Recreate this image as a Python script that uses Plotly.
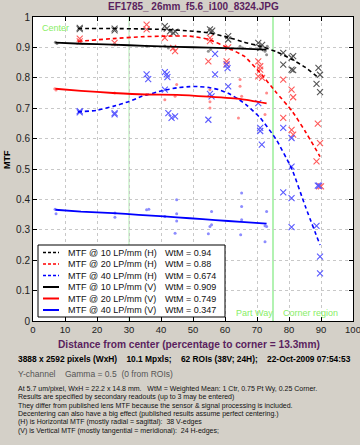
import plotly.graph_objects as go

# ---------------- text ----------------
title_text = "EF1785_ 26mm_f5.6_i100_8324.JPG"
x_title = "Distance from center (percentage to corner = 13.3mm)"
y_title = "MTF"
region_labels = ["Center", "Part Way", "Corner region"]
region_bounds = [30, 75]
info_bold = "3888 x 2592 pixels (WxH)    10.1 Mpxls;    62 ROIs (38V; 24H);    22-Oct-2009 07:54:53"
info_gray = "Y-channel    Gamma = 0.5  (0 from ROIs)"
info_lines = [
    "At 5.7 um/pixel, WxH = 22.2 x 14.8 mm.   WtM = Weighted Mean: 1 Ctr, 0.75 Pt Wy, 0.25 Corner.",
    "Results are specified by secondary readouts (up to 3 may be entered)",
    "They differ from published lens MTF because the sensor & signal processing is included.",
    "Decentering can also have a big effect (published results assume perfect centering.)",
    "(H) is Horizontal MTF (mostly radial = sagittal):  38 V-edges",
    "(V) is Vertical MTF (mostly tangential = meridional):  24 H-edges;",
]
series_names = ["MTF @ 10 LP/mm (H)", "MTF @ 20 LP/mm (H)", "MTF @ 40 LP/mm (H)",
                "MTF @ 10 LP/mm (V)", "MTF @ 20 LP/mm (V)", "MTF @ 40 LP/mm (V)"]
wtm_values = ["0.94", "0.88", "0.674", "0.909", "0.749", "0.347"]

# ---------------- fitted curves ----------------
fit10H_x = [14, 25, 33, 41, 48, 55, 61, 66, 71, 76, 81, 85, 89.5]
fit10H_y = [0.962, 0.962, 0.961, 0.959, 0.955, 0.948, 0.933, 0.917, 0.904, 0.886, 0.860, 0.835, 0.798]
fit20H_x = [14, 25, 34, 41, 49, 55, 61, 66, 71, 76, 81, 85, 89.7]
fit20H_y = [0.920, 0.929, 0.935, 0.937, 0.937, 0.926, 0.898, 0.871, 0.816, 0.752, 0.690, 0.625, 0.541]
fit40H_x = [14, 20, 25, 30, 34, 41, 45, 49, 52, 55, 58, 61, 64, 67, 71, 76, 81, 85, 89.7]
fit40H_y = [0.688, 0.693, 0.706, 0.722, 0.739, 0.759, 0.767, 0.771, 0.771, 0.768, 0.761, 0.749, 0.731, 0.708, 0.668, 0.597, 0.497, 0.380, 0.250]
fit10V_x = [7, 15, 25, 35, 45, 55, 65, 73]
fit10V_y = [0.916, 0.912, 0.909, 0.905, 0.902, 0.899, 0.896, 0.893]
fit20V_x = [7, 15, 25, 35, 45, 55, 65, 73]
fit20V_y = [0.764, 0.757, 0.750, 0.745, 0.744, 0.738, 0.730, 0.716]
fit40V_x = [7, 15, 25, 33, 41, 49, 57, 65, 73]
fit40V_y = [0.366, 0.360, 0.355, 0.349, 0.344, 0.338, 0.332, 0.326, 0.320]

# ---------------- measured ROI points ----------------
pts10H_x = [14.6, 14.6, 25.5, 25.5, 41.2, 41.8, 42.8, 43.8, 44.5, 55.3, 56.0, 55.6, 61.0, 61.0,
            70.4, 71.0, 71.6, 78.2, 81.3, 80.8, 78.2, 80.8, 81.3, 89.2, 89.7, 88.6, 89.7]
pts10H_y = [0.964, 0.960, 0.962, 0.956, 0.970, 0.962, 0.953, 0.948, 0.952, 0.959, 0.955, 0.950, 0.937, 0.926,
            0.915, 0.898, 0.908, 0.882, 0.871, 0.866, 0.843, 0.827, 0.825, 0.833, 0.810, 0.780, 0.753]
pts20H_x = [14.6, 14.6, 25.5, 35.5, 35.5, 41.2, 43.8, 44.4, 55.3, 55.3, 54.8, 61.0, 60.5, 60.5,
            70.4, 71.0, 71.0, 70.4, 71.6, 78.2, 80.8, 81.3, 78.2, 80.8, 81.3, 89.0, 89.7, 88.6, 89.4, 90.0]
pts20H_y = [0.929, 0.920, 0.915, 0.975, 0.959, 0.931, 0.898, 0.888, 0.931, 0.921, 0.854, 0.900, 0.854, 0.845,
            0.854, 0.838, 0.827, 0.805, 0.800, 0.794, 0.761, 0.736, 0.668, 0.629, 0.613, 0.649, 0.585, 0.525, 0.443, 0.443]
pts40H_x = [14.6, 14.6, 25.5, 25.5, 35.5, 36.0, 41.2, 41.8, 42.0, 56.9, 60.5, 60.8, 56.9, 61.0, 41.2, 55.3,
            55.8, 42.3, 43.3, 44.4, 54.8, 70.4, 71.0, 71.0, 71.5, 78.2, 80.8, 80.8, 78.2, 80.8, 80.8,
            89.0, 89.4, 88.6, 89.7, 89.7]
pts40H_y = [0.690, 0.686, 0.684, 0.680, 0.811, 0.796, 0.819, 0.811, 0.802, 0.879, 0.843, 0.832, 0.811, 0.772, 0.761, 0.747,
            0.739, 0.684, 0.668, 0.673, 0.662, 0.717, 0.635, 0.625, 0.580, 0.635, 0.602, 0.508, 0.423, 0.404, 0.309,
            0.445, 0.445, 0.313, 0.212, 0.157]
pts10V_x = [7.0, 7.5, 25.5, 35.5, 41.2, 42.3, 54.8, 55.5, 64.7, 65.5, 72.5, 73.0, 73.2]
pts10V_y = [0.917, 0.913, 0.909, 0.904, 0.905, 0.898, 0.887, 0.893, 0.904, 0.898, 0.887, 0.876, 0.904]
pts20V_x = [6.8, 7.2, 25.5, 35.5, 41.2, 44.4, 44.9, 55.3, 55.3, 55.3, 64.7, 64.7, 65.2, 64.2, 73.0, 72.5]
pts20V_y = [0.764, 0.760, 0.750, 0.745, 0.728, 0.739, 0.778, 0.761, 0.721, 0.701, 0.794, 0.772, 0.739, 0.668, 0.750, 0.679]
pts40V_x = [6.9, 7.2, 25.6, 25.6, 35.5, 36.2, 41.2, 44.9, 44.9, 44.9, 44.4, 55.3, 55.8, 55.8, 54.8,
            65.2, 65.2, 65.2, 64.9, 73.0, 73.0, 72.5, 72.5]
pts40V_y = [0.368, 0.353, 0.355, 0.341, 0.366, 0.368, 0.344, 0.399, 0.353, 0.329, 0.289, 0.311, 0.317, 0.360, 0.287,
            0.421, 0.377, 0.333, 0.284, 0.360, 0.311, 0.313, 0.261]

# ---------------- styles ----------------
line_colors = ["#000000", "#ff0000", "#0000ff"] * 2
line_dashes = ["4px,3px"] * 3 + ["solid"] * 3
line_widths = [1.6] * 3 + [1.8] * 3
cross_colors = ["#555555", "#ff5a5a", "#5a5aff"]
dot_colors = ["#909090", "#ff8c8c", "#8c8cff"]
FONT = "Liberation Sans, Arial, sans-serif"
PURPLE = "#5a1f5e"

fits = [(fit10H_x, fit10H_y), (fit20H_x, fit20H_y), (fit40H_x, fit40H_y),
        (fit10V_x, fit10V_y), (fit20V_x, fit20V_y), (fit40V_x, fit40V_y)]
pts = [(pts10H_x, pts10H_y), (pts20H_x, pts20H_y), (pts40H_x, pts40H_y),
       (pts10V_x, pts10V_y), (pts20V_x, pts20V_y), (pts40V_x, pts40V_y)]

fig = go.Figure()
for i, (px_, py_) in enumerate(pts):
    if i < 3:
        mk = dict(symbol="x-thin", size=6, line=dict(width=1.1, color=cross_colors[i]))
    else:
        mk = dict(symbol="circle", size=3, color=dot_colors[i - 3], line=dict(width=0))
    fig.add_trace(go.Scatter(x=px_, y=py_, mode="markers", marker=mk, showlegend=False,
                             hoverinfo="skip"))
for i, (fx, fy) in enumerate(fits):
    fig.add_trace(go.Scatter(x=fx, y=fy, mode="lines", name=series_names[i], showlegend=False,
                             line=dict(color=line_colors[i], dash=line_dashes[i], width=line_widths[i],
                                       shape="spline", smoothing=0.5)))

# pixel -> paper helpers for the layout (plot area 33..353 x 17..321)
L, R, T, B = 33, 353, 17, 321
def pxx(p):
    return (p - L) / (R - L)
def pxy(p):
    return (B - p) / (B - T)

shapes = []
# region boundaries
shapes.append(dict(type="line", xref="x", yref="paper", x0=region_bounds[0], x1=region_bounds[0], y0=0, y1=1,
                   line=dict(color="#bfeebf", width=1.2), layer="below"))
shapes.append(dict(type="line", xref="x", yref="paper", x0=region_bounds[1], x1=region_bounds[1], y0=0, y1=1,
                   line=dict(color="#7fea7f", width=1.2), layer="below"))
# legend box
shapes.append(dict(type="rect", xref="paper", yref="paper", x0=pxx(38), x1=pxx(225), y0=pxy(317), y1=pxy(245),
                   fillcolor="white", line=dict(color="black", width=1), layer="above"))
annotations = []
row_y = [252.5 + k * 11.5 for k in range(6)]
for i in range(6):
    shapes.append(dict(type="line", xref="paper", yref="paper", x0=pxx(43), x1=pxx(59),
                       y0=pxy(row_y[i]), y1=pxy(row_y[i]), layer="above",
                       line=dict(color=line_colors[i], width=1.6 if i < 3 else 2,
                                 dash="3px,2px" if i < 3 else "solid")))
    annotations.append(dict(xref="paper", yref="paper", x=pxx(66), y=pxy(row_y[i]), text=series_names[i],
                            showarrow=False, xanchor="left", yanchor="middle",
                            font=dict(family=FONT, size=9, color="#111")))
    annotations.append(dict(xref="paper", yref="paper", x=pxx(163), y=pxy(row_y[i]), text="WtM = " + wtm_values[i],
                            showarrow=False, xanchor="left", yanchor="middle",
                            font=dict(family=FONT, size=9, color="#111")))

# region labels
annotations.append(dict(xref="paper", yref="paper", x=pxx(40), y=pxy(28), text=region_labels[0], showarrow=False,
                        xanchor="left", yanchor="middle", font=dict(family=FONT, size=9, color="#88ee66")))
annotations.append(dict(xref="paper", yref="paper", x=pxx(234), y=pxy(312.5), text=region_labels[1], showarrow=False,
                        xanchor="left", yanchor="middle", font=dict(family=FONT, size=9, color="#88ee66")))
annotations.append(dict(xref="paper", yref="paper", x=pxx(281), y=pxy(312.5), text=region_labels[2], showarrow=False,
                        xanchor="left", yanchor="middle", font=dict(family=FONT, size=9, color="#88ee66")))

# titles
annotations.append(dict(xref="paper", yref="paper", x=pxx(193), y=pxy(7), text="<b>" + title_text + "</b>",
                        showarrow=False, xanchor="center", yanchor="middle",
                        font=dict(family=FONT, size=10, color=PURPLE)))
annotations.append(dict(xref="paper", yref="paper", x=pxx(189), y=pxy(344), text="<b>" + x_title + "</b>",
                        showarrow=False, xanchor="center", yanchor="middle",
                        font=dict(family=FONT, size=10.2, color=PURPLE)))
annotations.append(dict(xref="paper", yref="paper", x=pxx(7), y=pxy(160), text="<b>" + y_title + "</b>",
                        showarrow=False, xanchor="center", yanchor="middle", textangle=-90,
                        font=dict(family=FONT, size=9, color="#000")))
# info text
annotations.append(dict(xref="paper", yref="paper", x=pxx(16), y=pxy(359), text="<b>" + info_bold + "</b>",
                        showarrow=False, xanchor="left", yanchor="middle",
                        font=dict(family=FONT, size=8.4, color="#000")))
annotations.append(dict(xref="paper", yref="paper", x=pxx(16), y=pxy(373.5), text=info_gray,
                        showarrow=False, xanchor="left", yanchor="middle",
                        font=dict(family=FONT, size=8.5, color="#555")))
for k, t in enumerate(info_lines):
    annotations.append(dict(xref="paper", yref="paper", x=pxx(16), y=pxy(389 + k * 8.35), text=t,
                            showarrow=False, xanchor="left", yanchor="middle",
                            font=dict(family=FONT, size=7, color="#111")))

axis_common = dict(showline=True, linecolor="#000", linewidth=1, mirror="ticks", ticks="inside", ticklen=4,
                   tickcolor="#000", showgrid=True, gridcolor="#c8c8c8", griddash="dot", gridwidth=1,
                   zeroline=False, fixedrange=True, automargin=False, ticklabeloverflow="allow")
fig.update_layout(
    width=360, height=445,
    margin=dict(l=L, r=360 - R, t=T, b=445 - B, pad=0, autoexpand=False),
    paper_bgcolor="#d4d0c8", plot_bgcolor="white",
    showlegend=False,
    xaxis=dict(range=[0, 100], dtick=10, tick0=0, tickfont=dict(family=FONT, size=9.5, color="#222"),
               **axis_common),
    yaxis=dict(range=[0, 1], dtick=0.1, tick0=0, tickfont=dict(family=FONT, size=10, color="#222"),
               **axis_common),
    shapes=shapes, annotations=annotations,
)
fig.write_html("out.html", config={"responsive": False, "displayModeBar": False},
               post_script="document.body.style.margin='0';document.body.style.overflow='hidden';")
